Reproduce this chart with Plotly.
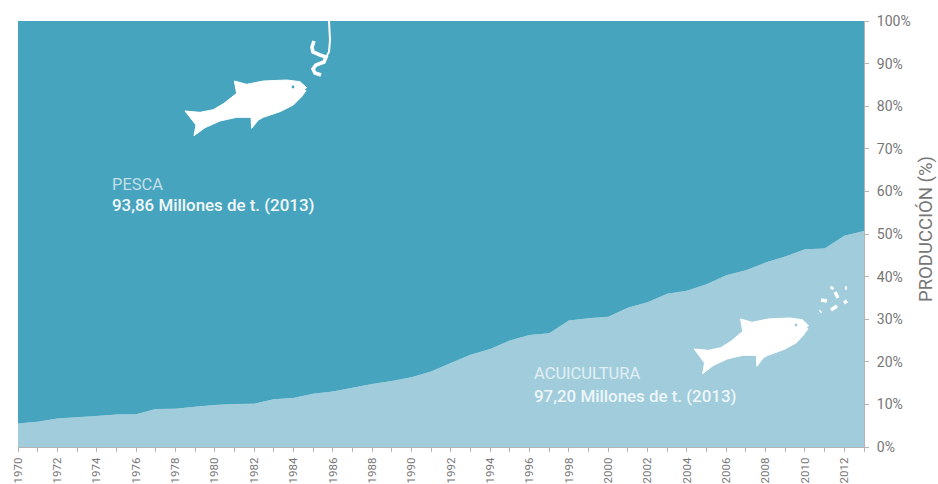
import plotly.graph_objects as go

W, H = 938, 484
LEFT, RIGHT, TOP, BOTTOM = 18, 864, 21, 447

years = list(range(1970, 2014))
acuicultura = [5.5, 5.9, 6.7, 7.0, 7.3, 7.65, 7.7, 8.9, 9.0, 9.45, 9.85, 10.1, 10.15,
               11.2, 11.5, 12.5, 13.0, 13.9, 14.8, 15.5, 16.4, 17.7, 19.7, 21.65, 23.0,
               25.0, 26.3, 26.7, 29.7, 30.2, 30.6, 32.7, 34.0, 36.0, 36.7, 38.2, 40.3,
               41.5, 43.3, 44.7, 46.4, 46.6, 49.6, 50.7]
pesca = [100 - v for v in acuicultura]
year_labels = [str(y) if (y - 1970) % 2 == 0 else "" for y in years]
pct_ticks = list(range(0, 101, 10))
pct_labels = [f"{p}%" for p in pct_ticks]

TEAL = "#47a4be"
PALE = "#a1ccdc"
GREY = "#767676"
AXIS = "#b4b4b4"
FONT = "Roboto"

# Fish silhouette, in its own drawing units
fish = [(15, 108), (60, 112), (100, 104), (132, 85), (170, 55), (163, 18), (200, 28),
        (250, 18), (320, 15), (360, 20), (380, 38), (372, 45), (378, 47), (365, 65),
        (340, 90), (300, 110), (250, 127), (235, 135), (215, 160), (213, 127),
        (170, 127), (120, 138), (75, 158), (42, 182), (48, 150)]
worm = [(314, 41), (312, 47), (313, 52), (320, 55), (326, 57), (324, 62), (316, 65),
        (313, 69), (315, 73), (321, 75)]
hook = [(329, 21), (330, 40), (329, 52), (326, 57)]
flakes = [((833, 287), (831, 289)), ((835, 292), (838, 298)), ((845, 288), (847, 288)),
          ((821, 300), (827, 301)), ((831, 310), (837, 306)), ((844, 303), (847, 301)),
          ((820, 312), (821, 311))]


def px(x, y):
    """Canvas pixels to fractions of the plot area."""
    return (x - LEFT) / (RIGHT - LEFT), (BOTTOM - y) / (BOTTOM - TOP)


def path(points, closed=False):
    cells = [px(*p) for p in points]
    d = "M" + " L".join(f"{a:.5f},{b:.5f}" for a, b in cells)
    return d + (" Z" if closed else "")


def silhouette(ox, oy, sx):
    return dict(type="path", xref="paper", yref="paper", layer="above",
                path=path([(ox + x * sx, oy + y / 3) for x, y in fish], True),
                fillcolor="white", line=dict(color="white", width=1))


def eye(cx, cy, color):
    x0, y0 = px(cx - 1.4, cy - 1.4)
    x1, y1 = px(cx + 1.4, cy + 1.4)
    return dict(type="circle", xref="paper", yref="paper", layer="above",
                x0=x0, y0=y0, x1=x1, y1=y1, fillcolor=color, line=dict(width=0))


def stroke(points, width):
    return dict(type="path", xref="paper", yref="paper", layer="above", path=path(points),
                line=dict(color="white", width=width))


shapes = [
    silhouette(180, 75, 1 / 3),
    silhouette(689.5, 313, 0.94 / 3),
    eye(293, 87, TEAL),
    eye(796, 325, PALE),
    stroke(hook, 2),
    stroke(worm, 3.6),
]
shapes += [stroke(list(seg), 3.4) for seg in flakes]

fig = go.Figure()
fig.add_trace(go.Scatter(x=years, y=acuicultura, name="Acuicultura", stackgroup="one",
                         mode="none", fillcolor=PALE))
fig.add_trace(go.Scatter(x=years, y=pesca, name="Pesca", stackgroup="one",
                         mode="none", fillcolor=TEAL))


def label(x, y, text, color, size, anchor="left", angle=0, weight=400):
    xp, yp = px(x, y)
    fig.add_annotation(x=xp, y=yp, xref="paper", yref="paper", text=text, showarrow=False,
                       xanchor=anchor, yanchor="middle", textangle=angle, borderpad=0,
                       font=dict(family=FONT, size=size, color=color, weight=weight))


label(111, 184, "PESCA", "#c4dfe8", 16.5)
label(111, 205, "93,86 Millones de t. (2013)", "#f2f8fa", 16.9, weight=500)
label(533, 373, "ACUICULTURA", "#e2f0f5", 16.5)
label(533, 396, "97,20 Millones de t. (2013)", "#eef6f9", 16.9, weight=500)
label(926, 229, "PRODUCCIÓN (%)", GREY, 18.5, "center", -90)

fig.update_layout(
    width=W, height=H, autosize=False, showlegend=False,
    margin=dict(l=LEFT, r=W - RIGHT, t=TOP, b=H - BOTTOM, pad=0),
    paper_bgcolor="white", plot_bgcolor="white", shapes=shapes,
    font=dict(family=FONT, color=GREY, size=14),
)
fig.update_xaxes(range=[1970, 2013], tickmode="array", tickvals=years, ticktext=year_labels,
                 tickangle=-90, ticks="outside", ticklen=4, tickcolor=AXIS, tickwidth=1,
                 showline=True, linecolor=AXIS, linewidth=1, showgrid=False, zeroline=False,
                 automargin=False, ticklabelstandoff=1,
                 tickfont=dict(family=FONT, size=11.5, color=GREY))
fig.update_yaxes(range=[0, 100], side="right", tickmode="array", tickvals=pct_ticks,
                 ticktext=pct_labels, ticks="outside", ticklen=4, tickcolor=AXIS, tickwidth=1,
                 showline=True, linecolor=AXIS, linewidth=1, showgrid=False, zeroline=False,
                 automargin=False, ticklabelstandoff=5,
                 tickfont=dict(family=FONT, size=14, color=GREY))

fig.write_html("out.html", config=dict(displayModeBar=False))
